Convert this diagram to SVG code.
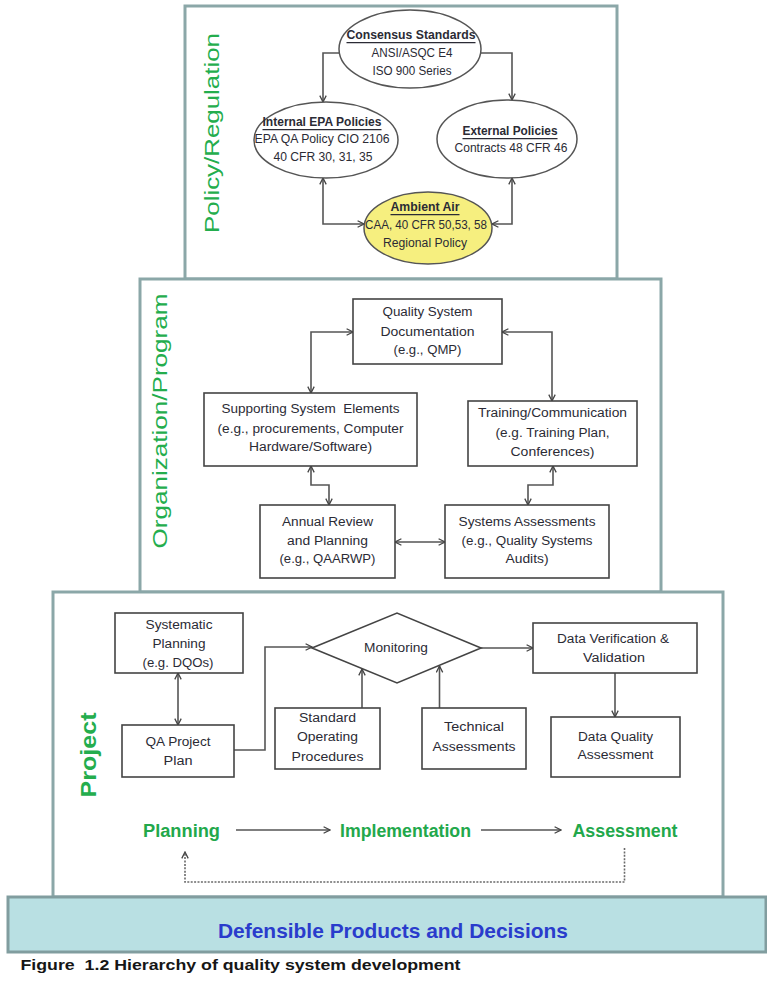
<svg xmlns="http://www.w3.org/2000/svg" width="767" height="982" viewBox="0 0 767 982">
  <style>
    .panel { fill: #ffffff; stroke: #8ba7a8; stroke-width: 3; }
    .bar { fill: #b9e0e3; stroke: #819d9f; stroke-width: 3; }
    .box { fill: #ffffff; stroke: #444444; stroke-width: 1.6; }
    .oval { fill: #ffffff; stroke: #555555; stroke-width: 1.5; }
    .oval.air { fill: #f6ef7f; }
    .conn { fill: none; stroke: #555555; stroke-width: 1.6; }
    .dots { fill: none; stroke: #6a6a6a; stroke-width: 1.6; stroke-dasharray: 2 1.4; }
    text { font-family: "Liberation Sans Narrow", "Liberation Sans", Arial, sans-serif; }
    .t { font-size: 12.5px; fill: #2b2b35; text-anchor: middle; dominant-baseline: central; }
    .h { font-weight: bold; text-decoration: underline; }
    .side { font-size: 21px; fill: #24ad4d; text-anchor: middle; dominant-baseline: central; }
    .phase { font-size: 18px; font-weight: bold; fill: #22a84b; text-anchor: middle; dominant-baseline: central; }
    .foot { font-size: 21px; font-weight: bold; fill: #2a3ccc; text-anchor: middle; dominant-baseline: central; }
    .cap { font-size: 15px; font-weight: bold; fill: #161616; dominant-baseline: central; }
  </style>
  <defs>
    <marker id="arr" viewBox="0 0 10 10" refX="9" refY="5" markerWidth="8" markerHeight="8" markerUnits="userSpaceOnUse" orient="auto-start-reverse">
      <path d="M1,1 L9,5 L1,9" fill="none" stroke="#444444" stroke-width="1.6"/>
    </marker>
  </defs>

  <!-- stacked tiers -->
  <g id="tier-policy">
    <rect class="panel" x="185" y="6" width="432" height="273"/>
    <text class="side" transform="translate(211,133) rotate(-90)" textLength="200" lengthAdjust="spacingAndGlyphs">Policy/Regulation</text>
  </g>
  <g id="tier-organization">
    <rect class="panel" x="140" y="279" width="521" height="313"/>
    <text class="side" transform="translate(159,421) rotate(-90)" textLength="255" lengthAdjust="spacingAndGlyphs">Organization/Program</text>
  </g>
  <g id="tier-project">
    <rect class="panel" x="53" y="592" width="670" height="305"/>
    <text class="side" style="font-weight:bold;font-size:22px" transform="translate(88,755) rotate(-90)" textLength="85" lengthAdjust="spacingAndGlyphs">Project</text>
  </g>
  <g id="base">
    <rect class="bar" x="8" y="897" width="758" height="55"/>
    <text class="foot" x="393" y="930" textLength="350" lengthAdjust="spacingAndGlyphs">Defensible Products and Decisions</text>
  </g>

  <!-- connectors -->
  <g id="connectors">
    <path class="conn" d="M339,53 H323 V102" marker-end="url(#arr)"/>
    <path class="conn" d="M481,53 H512 V100" marker-end="url(#arr)"/>
    <path class="conn" d="M323,178 V224 H364" marker-start="url(#arr)" marker-end="url(#arr)"/>
    <path class="conn" d="M512,178 V224 H492" marker-start="url(#arr)" marker-end="url(#arr)"/>

    <path class="conn" d="M353,332 H311 V393" marker-start="url(#arr)" marker-end="url(#arr)"/>
    <path class="conn" d="M502,332 H552 V401" marker-start="url(#arr)" marker-end="url(#arr)"/>
    <path class="conn" d="M311,466 V485 H329 V505" marker-start="url(#arr)" marker-end="url(#arr)"/>
    <path class="conn" d="M553,466 V485 H528 V505" marker-start="url(#arr)" marker-end="url(#arr)"/>
    <path class="conn" d="M395,542 H445" marker-start="url(#arr)" marker-end="url(#arr)"/>

    <path class="conn" d="M178,673 V725" marker-start="url(#arr)" marker-end="url(#arr)"/>
    <path class="conn" d="M234,750 H265 V647 H312" marker-end="url(#arr)"/>
    <path class="conn" d="M481,648 H533" marker-end="url(#arr)"/>
    <path class="conn" d="M615,673 V717" marker-end="url(#arr)"/>
    <path class="conn" d="M362,708 V669" marker-end="url(#arr)"/>
    <path class="conn" d="M439.5,708 V666" marker-end="url(#arr)"/>

    <path class="conn" d="M236,830 H330" marker-end="url(#arr)"/>
    <path class="conn" d="M481,830 H561" marker-end="url(#arr)"/>
    <path class="dots" d="M624.5,848 V882 H185 V852" marker-end="url(#arr)"/>
  </g>

  <!-- policy / regulation -->
  <g id="consensus-standards">
    <ellipse class="oval" cx="410" cy="49" rx="71" ry="39"/>
    <text class="t h" x="411" y="35" textLength="129" lengthAdjust="spacingAndGlyphs">Consensus Standards</text>
    <text class="t" x="412" y="53" textLength="81" lengthAdjust="spacingAndGlyphs">ANSI/ASQC E4</text>
    <text class="t" x="412" y="71" textLength="79" lengthAdjust="spacingAndGlyphs">ISO 900 Series</text>
  </g>
  <g id="internal-epa-policies">
    <ellipse class="oval" cx="326" cy="140" rx="72" ry="38"/>
    <text class="t h" x="322" y="122" textLength="119" lengthAdjust="spacingAndGlyphs">Internal EPA Policies</text>
    <text class="t" x="322" y="139" textLength="135" lengthAdjust="spacingAndGlyphs">EPA QA Policy CIO 2106</text>
    <text class="t" x="323" y="157" textLength="99" lengthAdjust="spacingAndGlyphs">40 CFR 30, 31, 35</text>
  </g>
  <g id="external-policies">
    <ellipse class="oval" cx="507" cy="139" rx="70" ry="39"/>
    <text class="t h" x="510" y="131" textLength="95" lengthAdjust="spacingAndGlyphs">External Policies</text>
    <text class="t" x="511" y="148" textLength="113" lengthAdjust="spacingAndGlyphs">Contracts 48 CFR 46</text>
  </g>
  <g id="ambient-air">
    <ellipse class="oval air" cx="428" cy="228" rx="64" ry="36"/>
    <text class="t h" x="425" y="207" textLength="69" lengthAdjust="spacingAndGlyphs">Ambient Air</text>
    <text class="t" x="426" y="225" textLength="122" lengthAdjust="spacingAndGlyphs">CAA, 40 CFR 50,53, 58</text>
    <text class="t" x="425" y="243" textLength="84" lengthAdjust="spacingAndGlyphs">Regional Policy</text>
  </g>

  <!-- organization / program -->
  <g id="quality-system-documentation">
    <rect class="box" x="353" y="299" width="149" height="65"/>
    <text class="t" x="427.5" y="312" textLength="90" lengthAdjust="spacingAndGlyphs">Quality System</text>
    <text class="t" x="427.5" y="332" textLength="94" lengthAdjust="spacingAndGlyphs">Documentation</text>
    <text class="t" x="427.5" y="350" textLength="68" lengthAdjust="spacingAndGlyphs">(e.g., QMP)</text>
  </g>
  <g id="supporting-system-elements">
    <rect class="box" x="204" y="393" width="213" height="73"/>
    <text class="t" x="310.5" y="409" textLength="178" lengthAdjust="spacingAndGlyphs" xml:space="preserve">Supporting System  Elements</text>
    <text class="t" x="310.5" y="429" textLength="186" lengthAdjust="spacingAndGlyphs">(e.g., procurements, Computer</text>
    <text class="t" x="310.5" y="447" textLength="123" lengthAdjust="spacingAndGlyphs">Hardware/Software)</text>
  </g>
  <g id="training-communication">
    <rect class="box" x="468" y="401" width="169" height="65"/>
    <text class="t" x="552.5" y="413" textLength="149" lengthAdjust="spacingAndGlyphs">Training/Communication</text>
    <text class="t" x="552.5" y="433" textLength="114" lengthAdjust="spacingAndGlyphs">(e.g. Training Plan,</text>
    <text class="t" x="552.5" y="452" textLength="84" lengthAdjust="spacingAndGlyphs">Conferences)</text>
  </g>
  <g id="annual-review">
    <rect class="box" x="260" y="505" width="135" height="73"/>
    <text class="t" x="327.5" y="522" textLength="91" lengthAdjust="spacingAndGlyphs">Annual Review</text>
    <text class="t" x="327.5" y="541" textLength="81" lengthAdjust="spacingAndGlyphs">and Planning</text>
    <text class="t" x="327.5" y="559" textLength="96" lengthAdjust="spacingAndGlyphs">(e.g., QAARWP)</text>
  </g>
  <g id="systems-assessments">
    <rect class="box" x="445" y="505" width="164" height="73"/>
    <text class="t" x="527" y="522" textLength="137" lengthAdjust="spacingAndGlyphs">Systems Assessments</text>
    <text class="t" x="527" y="541" textLength="131" lengthAdjust="spacingAndGlyphs">(e.g., Quality Systems</text>
    <text class="t" x="527" y="559" textLength="43" lengthAdjust="spacingAndGlyphs">Audits)</text>
  </g>

  <!-- project -->
  <g id="systematic-planning">
    <rect class="box" x="115" y="613" width="128" height="60"/>
    <text class="t" x="179" y="625" textLength="67" lengthAdjust="spacingAndGlyphs">Systematic</text>
    <text class="t" x="179" y="644" textLength="53" lengthAdjust="spacingAndGlyphs">Planning</text>
    <text class="t" x="178" y="663" textLength="71" lengthAdjust="spacingAndGlyphs">(e.g. DQOs)</text>
  </g>
  <g id="qa-project-plan">
    <rect class="box" x="122" y="725" width="112" height="52"/>
    <text class="t" x="178" y="742" textLength="65" lengthAdjust="spacingAndGlyphs">QA Project</text>
    <text class="t" x="178" y="761" textLength="29" lengthAdjust="spacingAndGlyphs">Plan</text>
  </g>
  <g id="monitoring">
    <polygon class="box" points="312,648 397,613 481,648 397,683"/>
    <text class="t" x="396" y="648" textLength="64" lengthAdjust="spacingAndGlyphs">Monitoring</text>
  </g>
  <g id="standard-operating-procedures">
    <rect class="box" x="275" y="708" width="105" height="61"/>
    <text class="t" x="327.5" y="718" textLength="57" lengthAdjust="spacingAndGlyphs">Standard</text>
    <text class="t" x="327.5" y="737" textLength="61" lengthAdjust="spacingAndGlyphs">Operating</text>
    <text class="t" x="327.5" y="757" textLength="72" lengthAdjust="spacingAndGlyphs">Procedures</text>
  </g>
  <g id="technical-assessments">
    <rect class="box" x="422" y="708" width="104" height="61"/>
    <text class="t" x="474" y="727" textLength="60" lengthAdjust="spacingAndGlyphs">Technical</text>
    <text class="t" x="474" y="747" textLength="83" lengthAdjust="spacingAndGlyphs">Assessments</text>
  </g>
  <g id="data-verification">
    <rect class="box" x="533" y="623" width="164" height="50"/>
    <text class="t" x="613" y="639" textLength="112" lengthAdjust="spacingAndGlyphs">Data Verification &amp;</text>
    <text class="t" x="614" y="658" textLength="62" lengthAdjust="spacingAndGlyphs">Validation</text>
  </g>
  <g id="data-quality-assessment">
    <rect class="box" x="551" y="717" width="129" height="60"/>
    <text class="t" x="615.5" y="737" textLength="75" lengthAdjust="spacingAndGlyphs">Data Quality</text>
    <text class="t" x="615.5" y="755" textLength="76" lengthAdjust="spacingAndGlyphs">Assessment</text>
  </g>

  <!-- project life cycle -->
  <g id="phase-planning">
    <text class="phase" x="181.5" y="831" textLength="77" lengthAdjust="spacingAndGlyphs">Planning</text>
  </g>
  <g id="phase-implementation">
    <text class="phase" x="405.5" y="831" textLength="131" lengthAdjust="spacingAndGlyphs">Implementation</text>
  </g>
  <g id="phase-assessment">
    <text class="phase" x="625" y="831" textLength="105" lengthAdjust="spacingAndGlyphs">Assessment</text>
  </g>

  <text class="cap" x="20.5" y="964" textLength="440" lengthAdjust="spacingAndGlyphs" xml:space="preserve">Figure  1.2 Hierarchy of quality system development</text>
</svg>
